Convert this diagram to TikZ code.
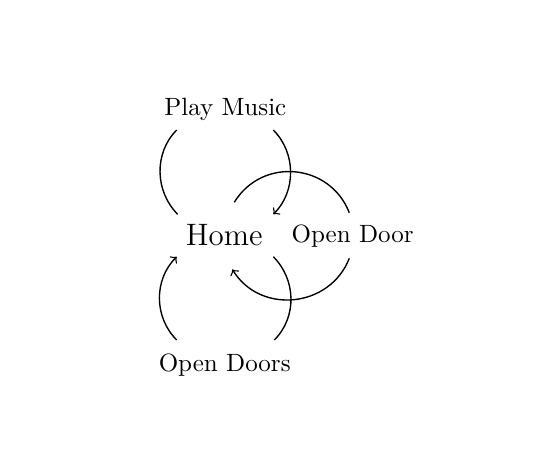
\documentclass[tikz,border=0pt]{standalone}
\begin{document}
\begin{tikzpicture}[x=0.4pt,y=0.4pt,
  state/.style={inner sep=0pt, anchor=base},
  link/.style={draw=black, line width=0.55pt},
  arr/.style={link, ->}]
\useasboundingbox (0,0) rectangle (548,-475);
\node[state] (Home) at (224.2,-245) {\fontsize{12.4pt}{15pt}\selectfont Home};
\node[state] (PM) at (225.3,-115.7) {Play Music};
\node[state] (ODs) at (224.7,-371.7) {Open Doors};
\node[state] (OD) at (352.7,-242.7) {Open Door};
% Home <-> Play Music
\draw[link] ([shift={(-46.5,30.7)}]Home.base) .. controls +(-22.9,22.9) and +(-22.9,-22.9) .. ([shift={(-48.6,-14.3)}]PM.base);
\draw[arr] ([shift={(48,-14.3)}]PM.base) .. controls +(22.9,-22.9) and +(22.9,22.9) .. ([shift={(49.1,30.7)}]Home.base);
% Home <-> Open Door
\draw[link] ([shift={(10.1,42.7)}]Home.base) .. controls +(27.8,45.5) and +(-19.4,49.7) .. ([shift={(-3.4,30)}]OD.base);
\draw[arr] ([shift={(-3.4,-15.6)}]OD.base) .. controls +(-19.4,-49.7) and +(27.8,-45.5) .. ([shift={(8.1,-24.3)}]Home.base);
% Home <-> Open Doors
\draw[arr] ([shift={(-48,31.7)}]ODs.base) .. controls +(-22.9,22.9) and +(-22.9,-22.9) .. ([shift={(-47.5,-11.7)}]Home.base);
\draw[link] ([shift={(49.1,-11.7)}]Home.base) .. controls +(22.9,-22.9) and +(22.9,22.9) .. ([shift={(49.6,31.7)}]ODs.base);
\end{tikzpicture}
\end{document}
